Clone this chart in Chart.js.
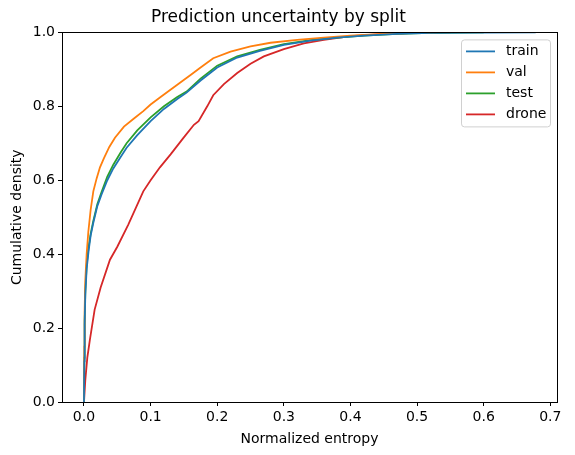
<!DOCTYPE html>
<html>
<head>
<meta charset="utf-8">
<script src="https://cdn.jsdelivr.net/npm/chart.js@4.4.0/dist/chart.umd.min.js"></script>
<style>
html,body{margin:0;padding:0;background:#fff;}
#wrap{width:575px;height:455px;position:relative;}
</style>
</head>
<body>
<div id="wrap"><canvas id="c" width="575" height="455"></canvas></div>
<script>
const seriesNames = ["train", "val", "test", "drone"];
const seriesColors = ["#1f77b4", "#ff7f0e", "#2ca02c", "#d62728"];

const trainX = [0,0.0005,0.001,0.002,0.004,0.007,0.01,0.014,0.02,0.0265,0.035,0.044,0.055,0.064,0.08,0.1,0.12,0.14,0.154,0.175,0.2,0.23,0.264,0.3,0.34,0.38,0.42,0.47,0.52,0.678];
const trainY = [0,0.11,0.21,0.29,0.36,0.41,0.45,0.485,0.53,0.562,0.60,0.632,0.663,0.688,0.722,0.76,0.793,0.82,0.837,0.87,0.905,0.932,0.95,0.966,0.978,0.986,0.991,0.996,0.999,1.0];

const valX = [0,0.0005,0.001,0.002,0.004,0.0065,0.01,0.014,0.019,0.024,0.03,0.038,0.0465,0.06,0.075,0.089,0.1,0.115,0.139,0.16,0.175,0.194,0.22,0.25,0.28,0.32,0.36,0.4,0.45,0.5,0.53];
const valY = [0,0.15,0.25,0.33,0.40,0.46,0.52,0.57,0.605,0.635,0.66,0.69,0.715,0.745,0.767,0.787,0.805,0.825,0.857,0.885,0.905,0.93,0.948,0.962,0.972,0.98,0.986,0.991,0.996,0.999,1.0];

const testX = [0,0.0005,0.001,0.002,0.004,0.007,0.01,0.014,0.02,0.0265,0.035,0.044,0.055,0.064,0.08,0.1,0.12,0.14,0.154,0.175,0.2,0.23,0.264,0.3,0.34,0.38,0.42,0.47,0.52,0.6];
const testY = [0,0.12,0.22,0.30,0.37,0.42,0.455,0.49,0.535,0.569,0.61,0.642,0.675,0.70,0.735,0.77,0.80,0.825,0.84,0.875,0.91,0.935,0.953,0.968,0.979,0.986,0.991,0.996,0.999,1.0];

const droneX = [0,0.002,0.005,0.009,0.016,0.025,0.039,0.05,0.0665,0.089,0.1,0.114,0.13,0.149,0.165,0.172,0.185,0.194,0.21,0.23,0.25,0.27,0.3,0.33,0.36,0.4,0.45,0.5,0.55];
const droneY = [0,0.06,0.12,0.17,0.25,0.31,0.385,0.42,0.48,0.57,0.60,0.635,0.67,0.714,0.75,0.76,0.80,0.83,0.86,0.89,0.915,0.935,0.955,0.97,0.98,0.99,0.996,0.999,1.0];

const xTicks = [0,0.1,0.2,0.3,0.4,0.5,0.6,0.7];
const yTicks = [0,0.2,0.4,0.6,0.8,1.0];

const allX = [trainX, valX, testX, droneX];
const allY = [trainY, valY, testY, droneY];

const FONT = "'DejaVu Sans', sans-serif";

const datasets = seriesNames.map((name, i) => ({
  label: name,
  data: allX[i].map((x, k) => ({x: x, y: allY[i][k]})),
  borderColor: seriesColors[i],
  backgroundColor: seriesColors[i],
  borderWidth: 1.8,
  pointRadius: 0,
  tension: 0,
  fill: false
}));

const framePlugin = {
  id: 'frame',
  afterDatasetsDraw(chart) {
    const {ctx, chartArea: a} = chart;
    ctx.save();
    ctx.strokeStyle = '#000';
    ctx.lineWidth = 1;
    ctx.strokeRect(Math.round(a.left) + 0.5, Math.round(a.top) + 0.5, Math.round(a.right - a.left), Math.round(a.bottom - a.top));
    ctx.restore();
  }
};

const legendPlugin = {
  id: 'mplLegend',
  afterDraw(chart) {
    const {ctx, chartArea: a} = chart;
    const right = a.right - 7;
    const top = a.top + 7;
    const w = 89, h = 87;
    const left = right - w;
    ctx.save();
    ctx.fillStyle = 'rgba(255,255,255,0.8)';
    ctx.strokeStyle = '#d0d0d0';
    ctx.lineWidth = 1;
    const r = 3;
    ctx.beginPath();
    ctx.moveTo(left + r + 0.5, top + 0.5);
    ctx.arcTo(left + w + 0.5, top + 0.5, left + w + 0.5, top + h + 0.5, r);
    ctx.arcTo(left + w + 0.5, top + h + 0.5, left + 0.5, top + h + 0.5, r);
    ctx.arcTo(left + 0.5, top + h + 0.5, left + 0.5, top + 0.5, r);
    ctx.arcTo(left + 0.5, top + 0.5, left + w + 0.5, top + 0.5, r);
    ctx.closePath();
    ctx.fill();
    ctx.stroke();
    ctx.font = '14px ' + FONT;
    ctx.textBaseline = 'middle';
    ctx.textAlign = 'left';
    chart.data.datasets.forEach((ds, i) => {
      const y = top + 12 + i * 21;
      ctx.strokeStyle = ds.borderColor;
      ctx.lineWidth = 1.8;
      ctx.beginPath();
      ctx.moveTo(left + 5, y);
      ctx.lineTo(left + 34, y);
      ctx.stroke();
      ctx.fillStyle = '#000';
      ctx.fillText(ds.label, left + 45, y);
    });
    ctx.restore();
  }
};

new Chart(document.getElementById('c'), {
  type: 'line',
  data: { datasets: datasets },
  options: {
    responsive: false,
    animation: false,
    events: [],
    layout: { padding: { left: 0, right: 18, top: 0, bottom: 0 } },
    plugins: {
      legend: { display: false },
      tooltip: { enabled: false },
      title: {
        display: true,
        text: 'Prediction uncertainty by split',
        color: '#000',
        font: { family: FONT, size: 17, weight: 'normal', lineHeight: 1.2 },
        padding: { top: 7, bottom: 5 }
      }
    },
    scales: {
      x: {
        type: 'linear',
        min: -0.033,
        max: 0.71,
        afterBuildTicks(scale) { scale.ticks = xTicks.map(v => ({value: v})); },
        afterFit(scale) { scale.height = 53; },
        grid: { drawOnChartArea: false, drawTicks: true, tickLength: 4, color: '#000', tickWidth: 1 },
        border: { display: true, color: '#000', width: 1 },
        ticks: {
          color: '#000',
          font: { family: FONT, size: 14 },
          padding: 3,
          maxRotation: 0,
          callback: v => Number(v).toFixed(1)
        },
        title: {
          display: true,
          text: 'Normalized entropy',
          color: '#000',
          font: { family: FONT, size: 14 },
          padding: { top: 2, bottom: 7 }
        }
      },
      y: {
        type: 'linear',
        min: 0,
        max: 1,
        afterBuildTicks(scale) { scale.ticks = yTicks.map(v => ({value: v})); },
        afterFit(scale) { scale.width = 62; },
        grid: { drawOnChartArea: false, drawTicks: true, tickLength: 4, color: '#000', tickWidth: 1 },
        border: { display: true, color: '#000', width: 1 },
        ticks: {
          color: '#000',
          font: { family: FONT, size: 14 },
          padding: 3,
          callback: v => Number(v).toFixed(1)
        },
        title: {
          display: true,
          text: 'Cumulative density',
          color: '#000',
          font: { family: FONT, size: 14 },
          padding: { top: 9, bottom: 4 }
        }
      }
    }
  },
  plugins: [framePlugin, legendPlugin]
});
</script>
</body>
</html>
